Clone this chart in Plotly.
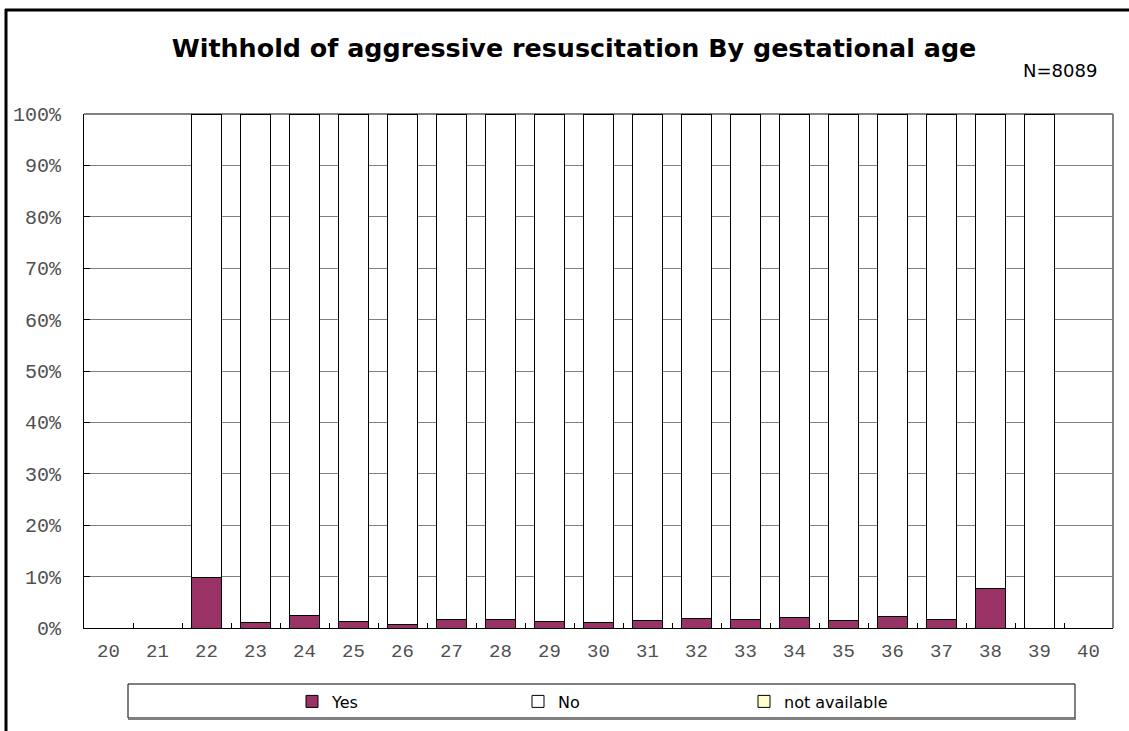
import plotly.graph_objects as go

categories = [str(w) for w in range(20, 41)]
yes_pct = [None, None, 9.9, 1.1, 2.4, 1.3, 0.7, 1.7, 1.7, 1.2, 1.0, 1.4, 1.8, 1.75, 2.1, 1.4, 2.3, 1.6, 7.7, 0.0, None]
no_pct = [None if v is None else round(100 - v, 2) for v in yes_pct]
na_pct = [None if v is None else 0.0 for v in yes_pct]
y_ticks = list(range(0, 101, 10))
y_tick_labels = [f"{t}%" for t in y_ticks]

title_text = "Withhold of aggressive resuscitation By gestational age"
n_text = "N=8089"

W, H = 1129, 731
L, R, T, B = 84, 16, 114, 103
pw, ph = W - L - R, H - T - B

def px(x):
    return (x - L) / pw

def py(y):
    return (H - B - y) / ph

mono = "Liberation Mono, Courier New, monospace"
sans = "DejaVu Sans, Verdana, sans-serif"

fig = go.Figure()
fig.add_trace(go.Bar(x=categories, y=yes_pct, name="Yes",
                     marker=dict(color="#993366", line=dict(color="black", width=1))))
fig.add_trace(go.Bar(x=categories, y=no_pct, name="No",
                     marker=dict(color="white", line=dict(color="black", width=1))))
fig.add_trace(go.Bar(x=categories, y=na_pct, name="not available",
                     marker=dict(color="#FFFFCC", line=dict(color="black", width=1))))

fig.update_layout(
    width=W, height=H,
    barmode="stack", bargap=0.39,
    margin=dict(l=L, r=R, t=T, b=B, pad=0, autoexpand=False),
    paper_bgcolor="white", plot_bgcolor="white",
    showlegend=True,
    legend=dict(orientation="h", x=px(292), xanchor="left", y=py(701.5), yanchor="middle",
                entrywidth=181, entrywidthmode="pixels",
                font=dict(family=sans, size=16, color="black"),
                bgcolor="rgba(0,0,0,0)", borderwidth=0, traceorder="normal",
                itemclick=False, itemdoubleclick=False),
    title=dict(text=title_text, x=574 / W, xanchor="center", y=1 - 48 / H, yanchor="middle",
               font=dict(family=sans, size=25.4, color="black", weight="bold")),
    xaxis=dict(type="category", tickson="boundaries", ticks="inside", ticklen=5,
               tickcolor="black", showline=True, linecolor="black", linewidth=1,
               showgrid=False, ticklabelstandoff=5,
               tickfont=dict(family=mono, size=19, color="#505050"),
               fixedrange=True),
    yaxis=dict(range=[0, 100], tickvals=y_ticks, ticktext=y_tick_labels,
               ticks="inside", ticklen=6, tickcolor="black",
               showline=True, linecolor="black", linewidth=1,
               showgrid=True, gridcolor="#808080", gridwidth=1, zeroline=False,
               ticklabelstandoff=18,
               tickfont=dict(family=mono, size=20, color="#505050"), fixedrange=True),
    annotations=[dict(text=n_text, xref="paper", yref="paper", x=px(1060), y=py(70),
                      xanchor="center", yanchor="middle", showarrow=False,
                      font=dict(family=sans, size=18, color="black"))],
    shapes=[
        dict(type="line", xref="paper", yref="paper", x0=0, x1=1, y0=1, y1=1,
             line=dict(color="#808080", width=2), layer="below"),
        dict(type="line", xref="paper", yref="paper", x0=1, x1=1, y0=0, y1=1,
             line=dict(color="#808080", width=2), layer="below"),
        dict(type="rect", xref="paper", yref="paper", x0=px(128), x1=px(1075),
             y0=py(718), y1=py(684), line=dict(color="black", width=1), fillcolor="white",
             layer="below"),
        dict(type="line", xref="paper", yref="paper", x0=px(128), x1=px(1076),
             y0=py(719), y1=py(719), line=dict(color="#808080", width=2)),
        dict(type="line", xref="paper", yref="paper", x0=px(6), x1=px(6),
             y0=py(9), y1=py(731), line=dict(color="black", width=3)),
        dict(type="line", xref="paper", yref="paper", x0=px(5), x1=px(1129),
             y0=py(10), y1=py(10), line=dict(color="black", width=3)),
    ],
)

fig.write_html("out.html", config={"responsive": False, "displayModeBar": False},
               post_script="document.body.style.margin='0';document.body.style.overflow='hidden';")
